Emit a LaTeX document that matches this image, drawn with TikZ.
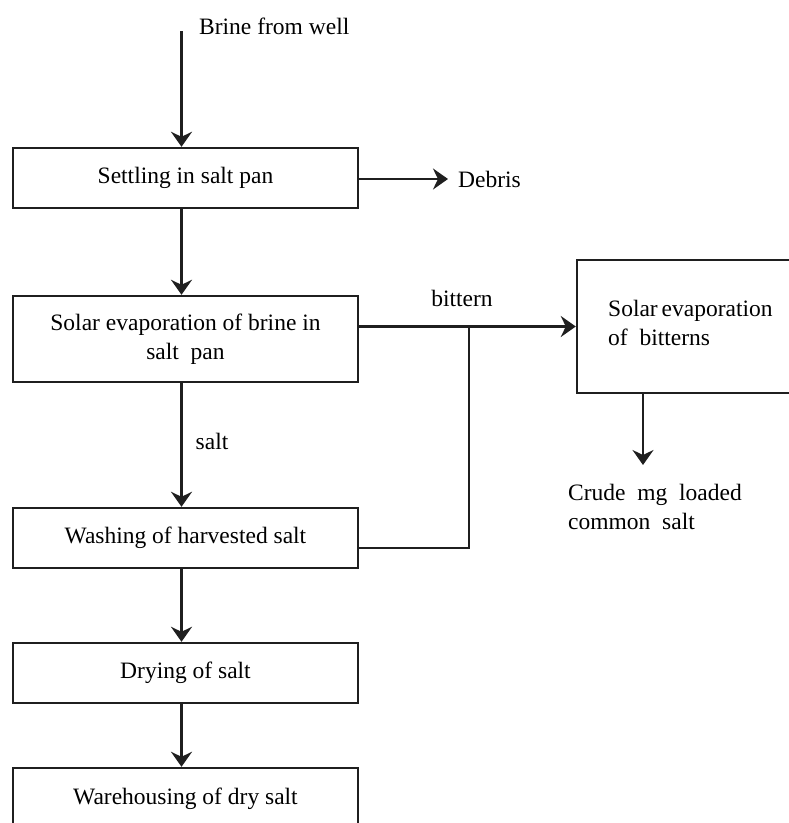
\documentclass[tikz,border=0pt]{standalone}
\usepackage{fontspec}
\setmainfont{Liberation Serif}
\usetikzlibrary{arrows.meta}
\begin{document}
\begin{tikzpicture}[x=1pt,y=-1pt,
  box/.style={draw=black!88,line width=2.4pt,minimum width=345pt,inner sep=0pt,align=center,
    font=\fontsize{23.5}{29}\selectfont},
  lbl/.style={inner sep=0pt,font=\fontsize{23.5}{29}\selectfont},
  arr/.style={draw=black!88,line width=2.4pt,-{Stealth[length=15pt,width=21pt,inset=5pt]}},
  ln/.style={draw=black!88,line width=2.4pt}]
\useasboundingbox (0,0) rectangle (789,823);
\node[box,minimum height=60pt] (settle) at (185.5,178) {Settling in salt pan};
\node[box,minimum height=86pt] (evap) at (185.5,339) {Solar evaporation of brine in\\salt\ \ pan};
\node[box,minimum height=60pt] (wash) at (185.5,538) {Washing of harvested salt};
\node[box,minimum height=60pt] (dry) at (185.5,673) {Drying of salt};
\node[box,minimum height=62pt] (ware) at (185.5,799) {Warehousing of dry salt};
\node[draw=black!88,line width=2.4pt,minimum width=218pt,minimum height=133pt,inner sep=0pt] (bev) at (686,326.5) {};
\node[lbl,anchor=west,align=left] (bevt) at (608,323) {Solar\,evaporation\\of\ \ bitterns};
\coordinate (top) at (181.5,31);
\node[lbl,anchor=west] (brine) at (199,26) {Brine from well};
\node[lbl,anchor=west] (debris) at (458,179) {Debris};
\node[lbl] (bittern) at (462,298) {bittern};
\node[lbl] (salt) at (212,441) {salt};
\node[lbl,anchor=west,align=left] (crude) at (568,507) {Crude\ \ mg\ \ loaded\\common\ \ salt};
\coordinate (j) at (469,326.5);
\coordinate (cb) at (643,465);
% connectors
\draw[arr] (top) -- (top |- settle.north);
\draw[arr] ([xshift=-4pt]settle.south) -- ([xshift=-4pt]evap.north);
\draw[arr] ([xshift=-4pt]evap.south) -- ([xshift=-4pt]wash.north);
\draw[arr] ([xshift=-4pt]wash.south) -- ([xshift=-4pt]dry.north);
\draw[arr] ([xshift=-4pt]dry.south) -- ([xshift=-4pt]ware.north);
\draw[arr] (settle.east |- debris.west) -- ([xshift=-10pt]debris.west);
\draw[arr] (bev.west -| evap.east) -- (bev.west);
\draw[ln] ([yshift=-10pt]wash.east) -| (j);
\draw[arr] (cb |- bev.south) -- (cb);
\end{tikzpicture}
\end{document}
